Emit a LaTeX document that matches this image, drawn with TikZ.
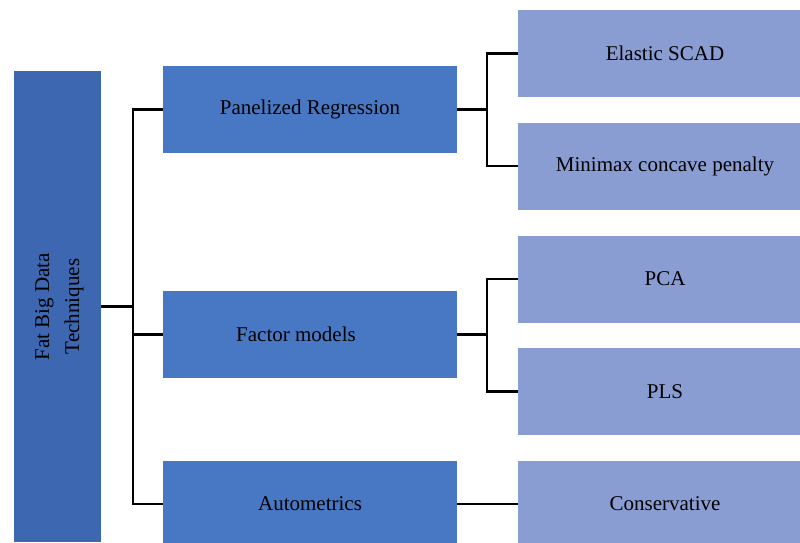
\documentclass[tikz,border=0pt]{standalone}
\usepackage{fontspec}
\setmainfont{Liberation Serif}
\usetikzlibrary{positioning}
\definecolor{deep}{HTML}{3D67B0}
\definecolor{mid}{HTML}{4877C4}
\definecolor{pale}{HTML}{8A9DD2}
\begin{document}
\begin{tikzpicture}[x=1pt,y=-1pt,every node/.style={font=\fontsize{21}{30}\selectfont,inner sep=0pt},
 root/.style={fill=deep,draw=none,minimum width=87pt,minimum height=471pt,align=center},
 tech/.style={fill=mid,draw=none,minimum width=294pt,minimum height=87pt,align=center},
 leaf/.style={fill=pale,draw=none,minimum width=294pt,minimum height=87pt,align=center},
 link/.style={black,line width=2.6pt}]
\useasboundingbox (0,0) rectangle (800,542);
\node[root](fbd) at (57.5,306.5){};
\node[rotate=90,align=center] at ([xshift=2pt]fbd.center){Fat Big Data\\Techniques};
\node[tech](pr) at (310,109.5){Panelized Regression};
\node[tech](fm) at (310,334.5){Factor models\hspace{28pt}};
\node[tech](au) at (310,504){Autometrics};
\node[leaf](es) at (665,53.5){Elastic SCAD};
\node[leaf](mcp) at (665,166){Minimax concave penalty};
\node[leaf](pca) at (665,279){PCA};
\node[leaf](pls) at (665,391.5){PLS};
\node[leaf](cons) at (665,504){Conservative};
\coordinate (j0) at (133,306.5);
\coordinate (j1) at (487,109.5);
\coordinate (j2) at (487,334.5);
\draw[link](fbd.east|-j0)--(j0);
\draw[link](pr.west)-|(j0)|-(au.west);
\draw[link](j0|-fm.west)--(fm.west);
\draw[link](pr.east)--(j1);
\draw[link](es.west)-|(j1)|-(mcp.west);
\draw[link](fm.east)--(j2);
\draw[link](pca.west)-|(j2)|-(pls.west);
\draw[link](au.east)--(cons.west);
\end{tikzpicture}
\end{document}
